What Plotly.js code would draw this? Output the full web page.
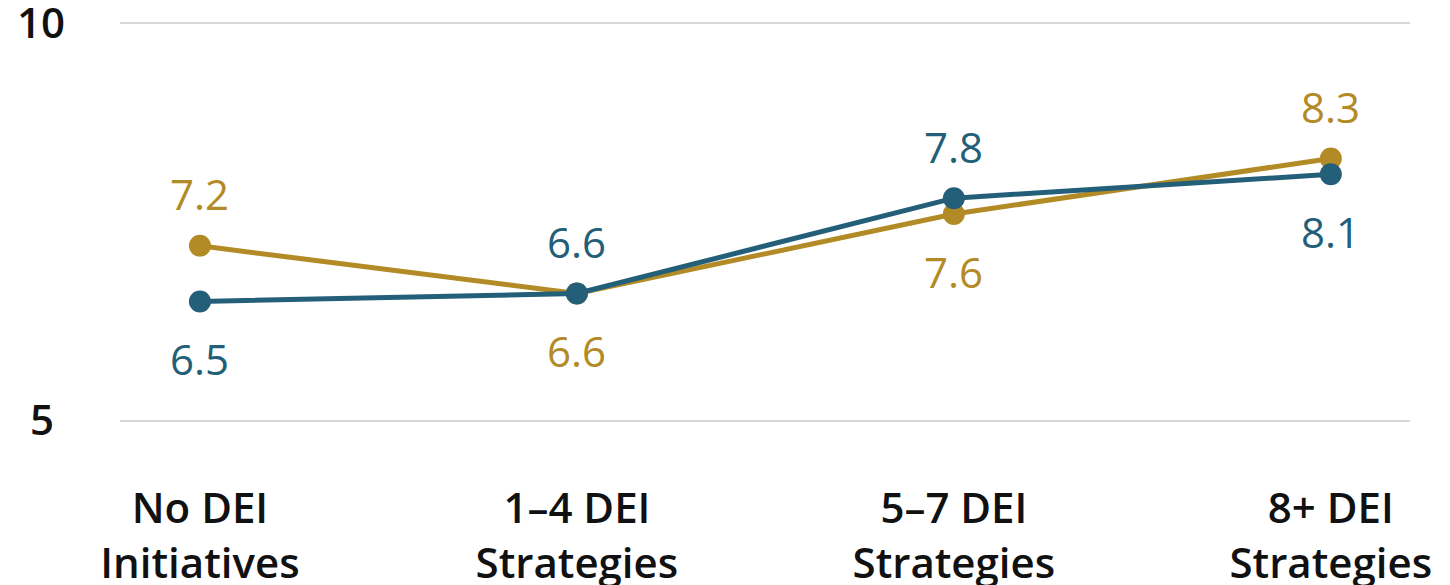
<!DOCTYPE html>
<html>
<head>
<meta charset="utf-8">
<script src="https://cdn.plot.ly/plotly-3.0.1.min.js"></script>
<style>html,body{margin:0;padding:0;background:#fff;}#chart{width:1450px;height:585px;}</style>
</head>
<body>
<div id="chart"></div>
<script>
const categories = ["No DEI<br>Initiatives", "1–4 DEI<br>Strategies", "5–7 DEI<br>Strategies", "8+ DEI<br>Strategies"];
const goldValues = [7.2, 6.6, 7.6, 8.3];
const blueValues = [6.5, 6.6, 7.8, 8.1];
const goldLabelSide = ["above", "below", "below", "above"];
const blueLabelSide = ["below", "above", "above", "below"];
const yTickVals = [5, 10];
const yTickText = ["5\u00A0", "10"];

const GOLD = "#B38B26";
const BLUE = "#235F78";
const FONT = "Open Sans, sans-serif";
const xIdx = categories.map((c, i) => i);

function trace(vals, color) {
  return {
    x: xIdx, y: vals, type: "scatter", mode: "lines+markers",
    line: {color: color, width: 5},
    marker: {color: color, size: 22},
    hoverinfo: "skip", cliponaxis: false
  };
}
function labels(vals, sides, color) {
  return vals.map((v, i) => ({
    x: i, y: v, xref: "x", yref: "y", text: v.toFixed(1), showarrow: false,
    yshift: sides[i] === "above" ? 52 : -57,
    font: {family: FONT, size: 42, color: color, weight: 500}
  }));
}
const data = [trace(goldValues, GOLD), trace(blueValues, BLUE)];
const layout = {
  width: 1450, height: 585,
  margin: {l: 120, r: 40, t: 21, b: 162},
  paper_bgcolor: "#fff", plot_bgcolor: "#fff",
  showlegend: false,
  xaxis: {
    range: [-0.212, 3.21], tickvals: xIdx, ticktext: categories,
    showgrid: false, zeroline: false, showline: false, ticks: "",
    ticklabelstandoff: 57, ticklabeloverflow: "allow",
    tickfont: {family: FONT, size: 42, color: "#111", weight: 600}
  },
  yaxis: {
    range: [4.97, 10.03], tickvals: yTickVals, ticktext: yTickText,
    showgrid: true, gridcolor: "#d8d8d8", gridwidth: 2,
    zeroline: false, showline: false, ticks: "",
    ticklabelstandoff: 54, ticklabeloverflow: "allow",
    tickfont: {family: FONT, size: 42, color: "#111", weight: 600}
  },
  annotations: labels(goldValues, goldLabelSide, GOLD).concat(labels(blueValues, blueLabelSide, BLUE))
};
Plotly.newPlot("chart", data, layout, {staticPlot: true, displayModeBar: false});
</script>
</body>
</html>
